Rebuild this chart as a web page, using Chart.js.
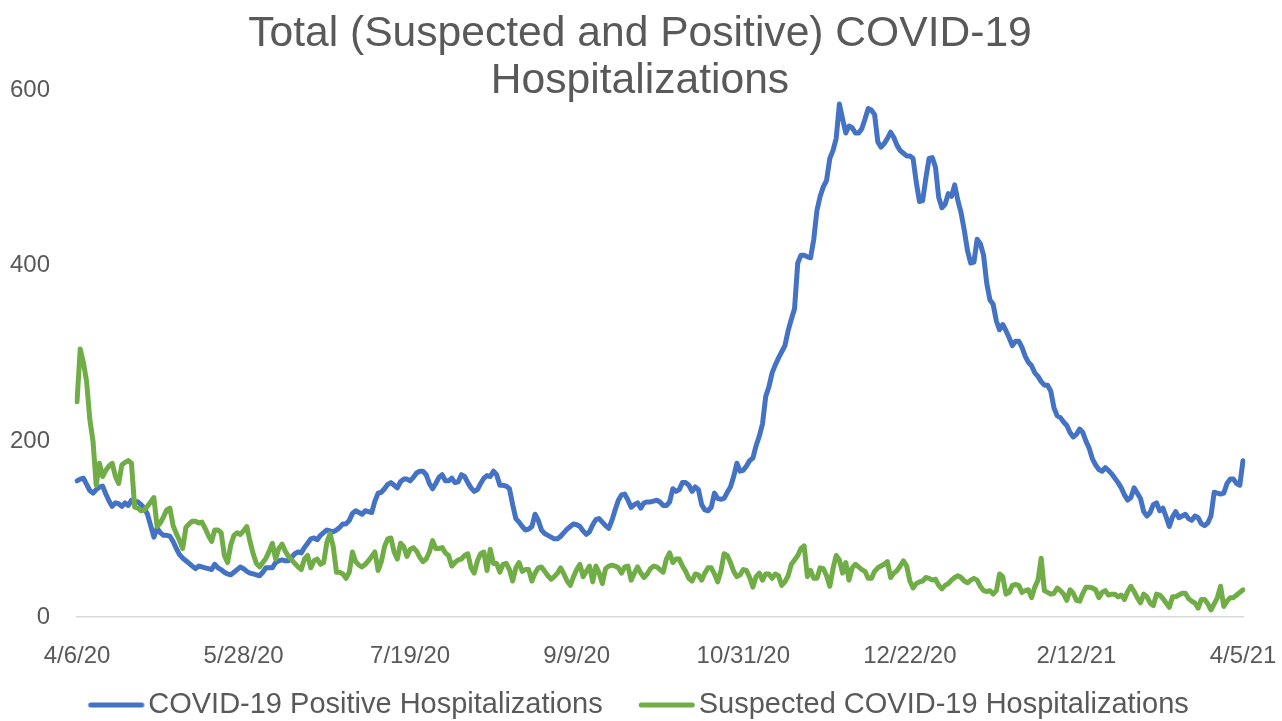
<!DOCTYPE html>
<html>
<head>
<meta charset="utf-8">
<title>Total (Suspected and Positive) COVID-19 Hospitalizations</title>
<script src="https://cdn.jsdelivr.net/npm/chart.js@4.4.1/dist/chart.umd.min.js"></script>
<style>
  html, body { margin: 0; padding: 0; background: #ffffff; }
  canvas { display: block; }
</style>
</head>
<body>
<canvas id="chart" width="1282" height="721"></canvas>
<script>
// Daily census, 4/6/20 through 4/5/21 (365 days)
const startDate = new Date(2020, 3, 6);
const dayCount = 365;

const tickLabels = ['4/6/20', '5/28/20', '7/19/20', '9/9/20', '10/31/20', '12/22/20', '2/12/21', '4/5/21'];
const tickEvery = 52;

const seriesNames = ['COVID-19 Positive Hospitalizations', 'Suspected COVID-19 Hospitalizations'];
const seriesColors = ['#4472C4', '#70AD47'];

const positive = [
  155,157,158,151,144,141,145,148,149,140,
  132,126,130,129,126,130,127,133,132,131,
  128,124,117,104,91,101,96,93,93,92,
  86,78,71,67,64,61,58,55,58,57,
  56,55,54,60,56,54,51,49,48,51,
  54,57,55,52,50,49,48,47,51,56,
  56,56,62,64,65,64,64,68,72,74,
  73,79,84,89,90,88,93,96,99,98,
  97,99,102,106,106,110,118,121,119,117,
  121,120,119,132,141,142,146,151,153,150,
  147,154,157,157,155,159,164,166,166,162,
  152,146,152,159,162,155,155,158,153,154,
  162,160,153,147,143,145,152,158,161,160,
  166,162,150,150,149,146,128,112,108,103,
  99,100,103,117,110,99,95,93,91,89,
  89,92,96,100,103,106,105,103,98,94,
  97,105,111,112,108,104,101,110,122,133,
  139,140,133,125,128,130,124,130,131,131,
  132,133,131,127,127,131,146,143,145,153,
  153,150,143,148,145,128,122,121,125,141,
  135,134,135,142,148,160,175,166,167,172,
  178,181,195,206,220,251,262,278,287,295,
  302,309,326,339,351,403,412,412,410,409,
  430,463,479,490,497,522,531,545,584,567,
  551,559,557,551,551,556,567,579,577,572,
  541,535,539,545,552,546,537,531,528,525,
  525,522,495,473,474,500,522,523,512,478,
  466,470,482,479,492,474,460,440,417,403,
  404,430,425,412,380,361,356,337,327,333,
  326,318,309,314,314,307,297,290,286,278,
  274,268,264,264,257,238,229,227,222,218,
  210,205,208,214,210,200,192,180,173,168,
  166,170,167,163,158,153,147,139,133,136,
  147,141,135,120,115,119,128,130,121,124,
  114,103,114,120,113,115,117,112,110,115,
  113,106,104,107,115,142,141,140,141,152,
  157,157,152,150,178
];

const suspected = [
  245,305,290,268,225,200,150,175,160,167,
  172,175,160,152,173,176,178,175,125,124,
  121,122,126,131,136,103,107,114,122,124,
  104,95,87,78,102,106,109,109,107,108,
  101,93,86,99,99,96,70,62,82,93,
  96,94,98,103,86,72,61,57,62,67,
  75,84,66,78,83,75,69,65,61,57,
  54,66,70,56,64,66,60,62,85,95,
  80,51,51,49,44,51,74,63,59,57,
  60,64,69,74,53,63,80,89,90,74,
  66,84,80,69,77,79,75,68,63,66,
  74,87,78,78,79,73,70,58,62,65,
  66,70,72,56,50,64,72,74,53,77,
  61,61,51,60,61,54,41,56,62,52,
  54,54,41,50,56,57,52,47,43,46,
  50,56,49,41,36,46,54,60,46,52,
  58,40,58,50,38,55,58,59,58,56,
  50,57,58,42,50,57,50,45,49,55,
  58,57,54,51,66,73,62,66,66,58,
  52,44,41,49,48,42,50,56,56,49,
  40,52,72,70,62,52,46,48,54,53,
  45,34,46,50,42,49,49,44,49,47,
  36,40,47,60,65,70,78,81,46,53,
  44,44,56,55,47,35,55,70,65,50,
  62,42,56,60,57,54,52,44,44,52,
  56,58,60,63,45,50,53,58,64,58,
  41,33,38,40,41,45,44,42,43,36,
  32,36,38,42,45,47,45,41,39,42,
  44,42,35,30,29,30,26,30,49,46,
  26,28,36,37,36,28,30,31,22,34,
  42,67,30,28,26,27,33,30,26,19,
  31,27,19,18,27,34,34,33,31,22,
  28,30,25,26,26,23,25,20,29,35,
  29,22,16,26,23,16,13,26,25,21,
  16,11,23,23,25,27,27,21,18,16,
  10,20,20,15,8,15,22,35,12,18,
  22,22,25,28,31
];

// one category per day, written as M/D/YY
const dates = [];
for (let i = 0; i < dayCount; i++) {
  const d = new Date(startDate.getFullYear(), startDate.getMonth(), startDate.getDate() + i);
  dates.push((d.getMonth() + 1) + '/' + d.getDate() + '/' + String(d.getFullYear()).slice(2));
}

const FONT = '"Liberation Sans", Arial, Helvetica, sans-serif';
const TEXT = '#595959';

// legend swatch: a short rounded stroke that ends just before the label text
function legendSwatch(color) {
  const c = document.createElement('canvas');
  c.width = 72;
  c.height = 8;
  const g = c.getContext('2d');
  g.strokeStyle = color;
  g.lineWidth = 5;
  g.lineCap = 'round';
  g.beginPath();
  g.moveTo(14.25, 4);
  g.lineTo(65.25, 4);
  g.stroke();
  return c;
}
const swatches = seriesColors.map(legendSwatch);

const lineStyle = {
  borderWidth: 5,
  pointRadius: 0,
  pointHoverRadius: 0,
  tension: 0,
  fill: false,
  borderJoinStyle: 'round',
  borderCapStyle: 'round'
};

new Chart(document.getElementById('chart'), {
  type: 'line',
  data: {
    labels: dates,
    datasets: [
      Object.assign({ label: seriesNames[0], data: positive, borderColor: seriesColors[0], backgroundColor: seriesColors[0], order: 1 }, lineStyle),
      Object.assign({ label: seriesNames[1], data: suspected, borderColor: seriesColors[1], backgroundColor: seriesColors[1], order: 0 }, lineStyle)
    ]
  },
  options: {
    responsive: false,
    animation: false,
    devicePixelRatio: 1,
    layout: { padding: { left: 10, right: 12, top: 0, bottom: -8.5 } },
    plugins: {
      title: {
        display: true,
        text: ['Total (Suspected and Positive) COVID-19', 'Hospitalizations'],
        color: TEXT,
        font: { family: FONT, size: 42.6, weight: 'normal', lineHeight: 1.1 },
        padding: { top: 11, bottom: -14.7 }
      },
      legend: {
        display: true,
        position: 'bottom',
        labels: {
          color: TEXT,
          font: { family: FONT, size: 29 },
          usePointStyle: true,
          pointStyleWidth: 42.5,
          boxHeight: 5,
          padding: 39,
          generateLabels: (chart) => chart.data.datasets.map((ds, i) => ({
            text: ds.label,
            fillStyle: ds.borderColor,
            strokeStyle: ds.borderColor,
            pointStyle: swatches[i],
            lineWidth: 0,
            fontColor: TEXT,
            hidden: false,
            datasetIndex: i
          }))
        }
      },
      tooltip: { enabled: false }
    },
    scales: {
      x: {
        type: 'category',
        offset: false,
        grid: { display: false, drawTicks: false },
        border: { display: true, color: '#d9d9d9', width: 1.5 },
        ticks: {
          autoSkip: false,
          maxRotation: 0,
          minRotation: 0,
          // labels are placed below the axis line through a mirrored, negative offset
          mirror: true,
          padding: -51,
          color: TEXT,
          font: { family: FONT, size: 24, lineHeight: 1 },
          callback: (value, index) => (index % tickEvery === 0 ? tickLabels[index / tickEvery] : '')
        },
        afterFit: (scale) => {
          scale.height = 34.5;
          scale.paddingLeft = 0;
          scale.paddingRight = 39;
        }
      },
      y: {
        min: 0,
        max: 600,
        grid: { display: false, drawTicks: false },
        border: { display: false },
        ticks: {
          stepSize: 200,
          padding: 27,
          color: TEXT,
          font: { family: FONT, size: 24 }
        },
        afterFit: (scale) => { scale.width = 67; }
      }
    }
  }
});
</script>
</body>
</html>
